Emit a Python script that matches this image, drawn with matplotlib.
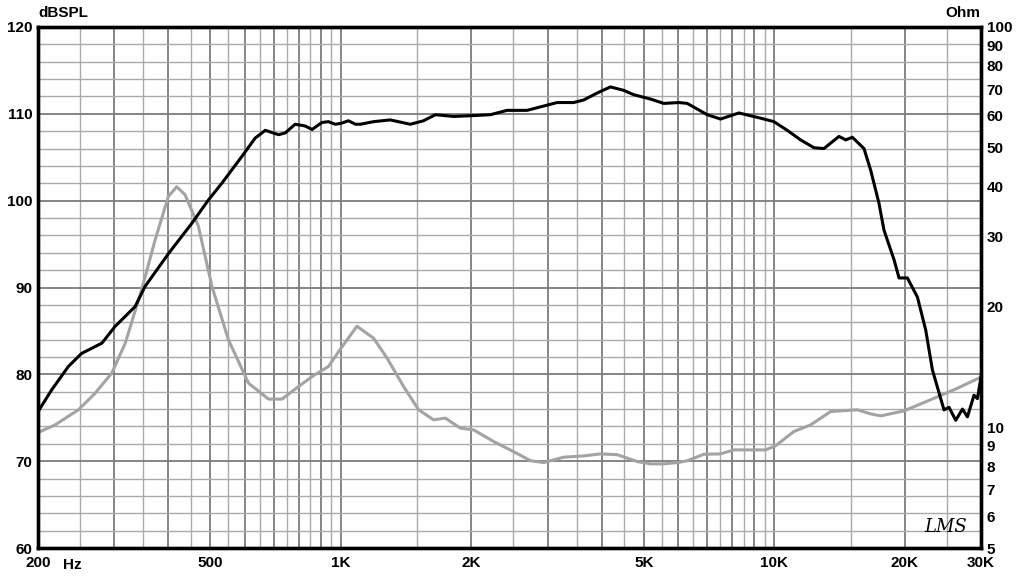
import matplotlib.pyplot as plt
import matplotlib.transforms as mtransforms
from matplotlib.ticker import NullLocator, NullFormatter
import numpy as np

# SPL response (black curve), dB
spl_freq = [200, 215, 235, 252, 281, 301, 335, 353, 400, 453, 495, 531, 591, 634,
            669, 718, 744, 784, 827, 858, 904, 936, 970, 1000, 1041, 1080, 1109,
            1190, 1300, 1446, 1551, 1652, 1820, 2025, 2213, 2418, 2689, 2991,
            3155, 3446, 3634, 3904, 4188, 4495, 4740, 5183, 5561, 6024, 6298,
            7004, 7517, 8288, 9300, 9982, 10717, 11503, 12346, 13019, 14107,
            14617, 15146, 16110, 16694, 17446, 17918, 18898, 19408, 20290,
            21397, 22365, 23177, 24220, 24652, 25313, 26231, 27183, 27913,
            28907, 29437, 30000]
spl_db = [75.7, 78.2, 80.9, 82.4, 83.6, 85.5, 87.8, 90.1, 93.9, 97.4, 100.1, 102.0,
          105.1, 107.2, 108.1, 107.6, 107.8, 108.8, 108.6, 108.2, 109.0, 109.1,
          108.8, 108.9, 109.2, 108.8, 108.8, 109.1, 109.3, 108.8, 109.2, 109.9,
          109.7, 109.8, 109.9, 110.4, 110.4, 111.0, 111.3, 111.3, 111.6, 112.4,
          113.1, 112.7, 112.2, 111.7, 111.2, 111.3, 111.2, 109.9, 109.4, 110.1,
          109.5, 109.1, 108.1, 107.0, 106.1, 106.0, 107.4, 107.0, 107.3, 106.0,
          103.5, 99.7, 96.6, 93.2, 91.1, 91.1, 88.9, 85.1, 80.5, 77.2, 75.9,
          76.2, 74.7, 76.0, 75.1, 77.6, 77.2, 79.7]

# Impedance (grey curve), Ohm
imp_freq = [200, 219, 248, 271, 296, 318, 347, 373, 400, 418, 437, 469, 504, 550,
            612, 681, 731, 799, 858, 936, 1006, 1089, 1190, 1278, 1395, 1511,
            1636, 1742, 1887, 2025, 2252, 2504, 2738, 2938, 3268, 3634, 3971,
            4341, 4827, 5183, 5561, 6024, 6298, 6880, 7517, 8071, 8815, 9550,
            10071, 11101, 12134, 13496, 14233, 15557, 16694, 17607, 19928,
            23383, 26470, 30000]
imp_ohm = [9.71, 10.15, 11.07, 12.18, 13.67, 16.24, 22.1, 29.5, 37.8, 39.9, 38.1,
           31.8, 22.5, 16.56, 12.9, 11.77, 11.77, 12.66, 13.4, 14.2, 15.9, 17.9,
           16.7, 14.9, 12.66, 11.07, 10.45, 10.55, 9.96, 9.86, 9.22, 8.7, 8.26,
           8.17, 8.43, 8.49, 8.59, 8.55, 8.22, 8.11, 8.11, 8.18, 8.26, 8.57,
           8.59, 8.79, 8.79, 8.79, 9.0, 9.77, 10.15, 10.96, 11.0, 11.07, 10.81,
           10.69, 11.0, 11.83, 12.53, 13.36]

x_ticks = [200, 500, 1000, 2000, 5000, 10000, 20000, 30000]
x_labels = ['200', '500', '1K', '2K', '5K', '10K', '20K', '30K']
db_ticks = [60, 70, 80, 90, 100, 110, 120]
ohm_ticks = [5, 6, 7, 8, 9, 10, 20, 30, 40, 50, 60, 70, 80, 90, 100]

plt.rcParams['font.family'] = ['Liberation Sans', 'DejaVu Sans']
plt.rcParams['font.weight'] = 'bold'

fig = plt.figure(figsize=(10.24, 5.86), dpi=100)
ax_z = fig.add_axes([38 / 1024, 38 / 586, 943 / 1024, 521 / 586])
ax = ax_z.twinx()

ax_z.set_xscale('log')
ax_z.set_xlim(200, 30000)
ax_z.set_yscale('log')
ax_z.set_ylim(5, 100)
ax.set_ylim(60, 120)

# frequency grid: half steps in every decade, darker on whole steps
for k in (2, 3, 4):
    for m in np.arange(1, 10, 0.5):
        f = m * 10 ** k
        if f <= 200 or f >= 30000:
            continue
        whole = float(m).is_integer()
        ax_z.axvline(f, color='#7c7c7c' if whole else '#a9a9a9',
                     lw=1.3 if whole else 1.0, zorder=0)

# dB grid every 2 dB, positioned by the SPL axis
hline_tr = mtransforms.blended_transform_factory(ax_z.transAxes, ax.transData)
for d in range(62, 120, 2):
    major = d % 10 == 0
    ax_z.plot([0, 1], [d, d], transform=hline_tr, color='#7c7c7c' if major else '#a9a9a9',
              lw=1.3 if major else 1.0, zorder=0)

ax_z.plot(imp_freq, imp_ohm, color='#a3a3a3', lw=2.2, zorder=2)
ax.plot(spl_freq, spl_db, color='black', lw=2.2, zorder=3)

ax_z.set_xticks(x_ticks, labels=x_labels)
ax_z.xaxis.set_minor_locator(NullLocator())
ax_z.xaxis.set_minor_formatter(NullFormatter())
ax_z.yaxis.tick_right()
ax_z.set_yticks(ohm_ticks, labels=[str(v) for v in ohm_ticks])
ax_z.yaxis.set_minor_locator(NullLocator())
ax_z.yaxis.set_minor_formatter(NullFormatter())
ax.yaxis.tick_left()
ax.set_yticks(db_ticks, labels=[str(v) for v in db_ticks])

for a in (ax_z, ax):
    a.tick_params(length=0, labelsize=11, pad=4)
    for s in a.spines.values():
        s.set_linewidth(2.4)
        s.set_color('black')
ax_z.tick_params(axis='x', pad=6)

fig.text(38 / 1024, 1 - 13 / 586, 'dBSPL', ha='left', va='center', fontsize=11)
fig.text(980 / 1024, 1 - 13 / 586, 'Ohm', ha='right', va='center', fontsize=11)
ax_z.text(240, -0.033, 'Hz', transform=ax_z.get_xaxis_transform(),
          ha='center', va='center', fontsize=11)
ax_z.text(0.963, 0.04, 'LMS', transform=ax_z.transAxes, ha='center', va='center',
          fontsize=13, fontweight='normal', fontstyle='italic', family='DejaVu Serif')

fig.savefig('out.png', dpi=100)
